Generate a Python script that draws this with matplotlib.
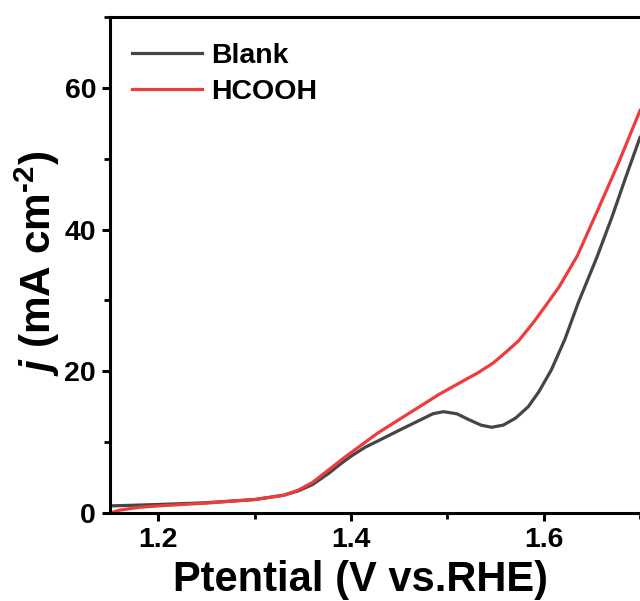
import matplotlib
matplotlib.use("Agg")
import matplotlib.pyplot as plt
from matplotlib.ticker import MultipleLocator

plt.rcParams['font.family'] = ['Liberation Sans', 'DejaVu Sans']
plt.rcParams['font.weight'] = 'bold'
plt.rcParams['mathtext.fontset'] = 'custom'
plt.rcParams['mathtext.rm'] = 'Liberation Sans:bold'
plt.rcParams['mathtext.it'] = 'Liberation Sans:italic:bold'
plt.rcParams['mathtext.bf'] = 'Liberation Sans:bold'

# Potential (V vs. RHE) and current density (mA cm^-2)
blank_v = [1.15, 1.20, 1.25, 1.30, 1.33, 1.345, 1.36, 1.377, 1.39, 1.40, 1.415,
           1.43, 1.449, 1.47, 1.485, 1.496, 1.51, 1.522, 1.535, 1.546, 1.558,
           1.571, 1.584, 1.595, 1.608, 1.622, 1.636, 1.655, 1.671, 1.685, 1.70]
blank_j = [1.0, 1.2, 1.45, 1.9, 2.5, 3.1, 4.0, 5.6, 7.0, 8.0, 9.3,
           10.3, 11.6, 13.0, 14.0, 14.3, 14.0, 13.2, 12.4, 12.1, 12.4,
           13.4, 15.0, 17.1, 20.2, 24.5, 29.7, 36.0, 41.8, 47.3, 53.0]

hcooh_v = [1.15, 1.16, 1.18, 1.20, 1.25, 1.30, 1.33, 1.345, 1.36, 1.377, 1.393,
           1.408, 1.428, 1.449, 1.47, 1.491, 1.512, 1.532, 1.548, 1.56, 1.574,
           1.59, 1.605, 1.616, 1.635, 1.657, 1.678, 1.70]
hcooh_j = [0.0, 0.4, 0.8, 1.0, 1.4, 1.9, 2.5, 3.2, 4.3, 6.1, 7.8,
           9.3, 11.3, 13.1, 14.9, 16.7, 18.3, 19.8, 21.2, 22.6, 24.3,
           27.0, 29.8, 31.9, 36.3, 43.0, 49.5, 56.8]

labels = ["Blank", "HCOOH"]
colors = ["#454545", "#ee3b3b"]

fig = plt.figure(figsize=(6.4, 6.01), dpi=100)
ax = fig.add_axes([110/640, 88/601, 1 - 110/640, (513-17)/601])

ax.plot(blank_v, blank_j, color=colors[0], lw=2.3, label=labels[0])
ax.plot(hcooh_v, hcooh_j, color=colors[1], lw=2.3, label=labels[1])

ax.set_xlim(1.15, 1.70)
ax.set_ylim(0, 70)
ax.xaxis.set_major_locator(MultipleLocator(0.2))
ax.xaxis.set_minor_locator(MultipleLocator(0.1))
ax.yaxis.set_major_locator(MultipleLocator(20))
ax.yaxis.set_minor_locator(MultipleLocator(10))

for s in ['left', 'bottom', 'top']:
    ax.spines[s].set_linewidth(2.2)
ax.spines['right'].set_visible(False)

ax.tick_params(which='major', direction='out', length=6, width=2.2, labelsize=20.5, pad=4)
ax.tick_params(which='minor', direction='out', length=4, width=2.0)
ax.tick_params(top=False, right=False, which='both')
for lab in ax.get_xticklabels() + ax.get_yticklabels():
    lab.set_fontweight('bold')

ax.set_xlabel("Ptential (V vs.RHE)", fontsize=30, fontweight='bold')
ax.xaxis.set_label_coords(0.472, -0.095)
ax.set_ylabel(r"$\it{j}$ (mA cm$^{\text{-2}}$)", fontsize=30.5, fontweight='bold')
ax.yaxis.set_label_coords(-0.09, 0.503)

leg = ax.legend(loc='upper left', bbox_to_anchor=(-0.006, 1.0), frameon=False,
                handlelength=2.45, handletextpad=0.32, labelspacing=0.38,
                prop={'weight': 'bold', 'size': 20.5})

fig.savefig("out.png", dpi=100)
